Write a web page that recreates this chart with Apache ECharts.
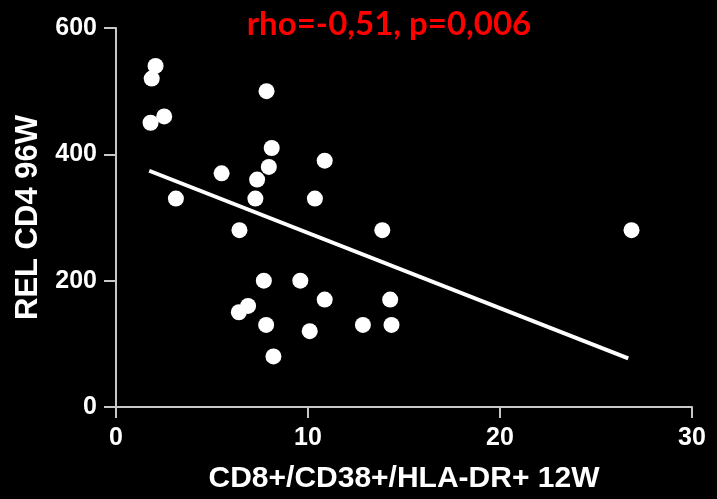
<!DOCTYPE html>
<html>
<head>
<meta charset="utf-8">
<script src="https://cdn.jsdelivr.net/npm/echarts@6/dist/echarts.min.js"></script>
<style>
html,body{margin:0;padding:0;background:#000;}
#chart{width:717px;height:499px;}
</style>
</head>
<body>
<div id="chart"></div>
<script>
const titleText = 'rho=-0,51, p=0,006';
const xAxisTitle = 'CD8+/CD38+/HLA-DR+ 12W';
const yAxisTitle = 'REL CD4 96W';
const xTicks = [0, 10, 20, 30];
const yTicks = [0, 200, 400, 600];
const xValues = [2.06, 1.86, 1.80, 2.51, 7.84, 8.11, 7.96, 7.35, 5.50, 10.87, 3.12, 7.26, 10.36, 6.43, 13.87, 26.85, 7.70, 9.60, 6.88, 6.40, 10.87, 14.28, 7.82, 10.09, 12.86, 14.35, 8.20];
const yValues = [540, 520, 450, 460, 500, 410, 380, 360, 370, 390, 330, 330, 330, 280, 280, 280, 200, 200, 160, 150, 170, 170, 130, 120, 130, 130, 80];
const fitX = [1.73, 26.68];
const fitY = [374, 77];

const points = xValues.map((x, i) => [x, yValues[i]]);
const fitLine = fitX.map((x, i) => [x, fitY[i]]);

const chart = echarts.init(document.getElementById('chart'));
const axisColor = '#c8c8c8';
const labelFont = {color: '#fff', fontFamily: 'Liberation Sans', fontWeight: 'bold', fontSize: 25};
chart.setOption({
  backgroundColor: '#000',
  animation: false,
  title: {
    text: titleText,
    left: 384, top: 3,
    textAlign: 'center',
    textStyle: {color: '#ff0000', fontFamily: 'Lato', fontWeight: 'bold', fontSize: 33}
  },
  grid: {left: 116, right: 25, top: 28, bottom: 89},
  xAxis: {
    type: 'value', min: xTicks[0], max: xTicks[xTicks.length - 1], interval: 10,
    name: xAxisTitle, nameLocation: 'middle', nameGap: 57,
    nameTextStyle: {color: '#fff', fontFamily: 'Liberation Sans', fontWeight: 'bold', fontSize: 30},
    axisLine: {show: true, lineStyle: {color: axisColor, width: 2}},
    axisTick: {show: true, length: 11, lineStyle: {color: axisColor, width: 2}},
    axisLabel: Object.assign({margin: 19}, labelFont),
    splitLine: {show: false}
  },
  yAxis: {
    type: 'value', min: yTicks[0], max: yTicks[yTicks.length - 1], interval: 200,
    name: yAxisTitle, nameLocation: 'middle', nameGap: 67,
    nameTextStyle: {color: '#fff', fontFamily: 'Liberation Sans', fontWeight: 'bold', fontSize: 31},
    axisLine: {show: true, lineStyle: {color: axisColor, width: 2}},
    axisTick: {show: true, length: 12, lineStyle: {color: axisColor, width: 2}},
    axisLabel: Object.assign({margin: 19}, labelFont),
    splitLine: {show: false}
  },
  series: [
    {
      type: 'line', data: fitLine, showSymbol: false, symbol: 'none',
      lineStyle: {color: '#fff', width: 4}, z: 2
    },
    {
      type: 'scatter', data: points, symbolSize: 16,
      itemStyle: {color: '#fff', opacity: 1}, z: 3
    }
  ]
});
</script>
</body>
</html>
